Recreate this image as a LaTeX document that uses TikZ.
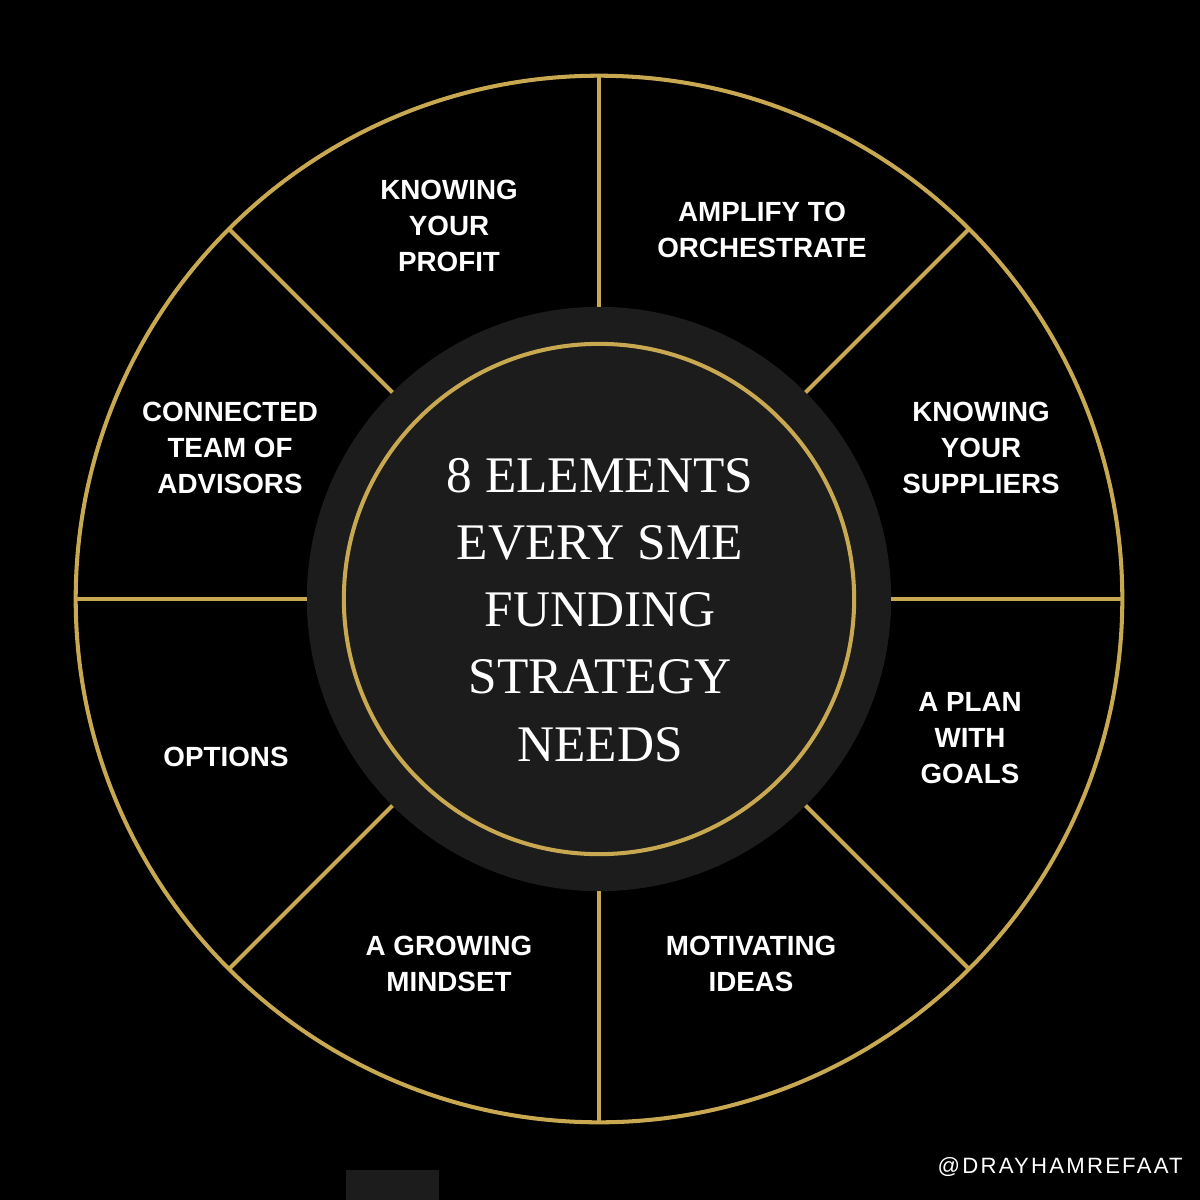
\documentclass[tikz,border=0pt]{standalone}
\usepackage{fontspec}
\setmainfont{Liberation Serif}
\newfontfamily\labelfont{Liberation Sans}
\newfontfamily\tagfont{Liberation Sans}[LetterSpace=10]
\definecolor{gold}{RGB}{200,168,80}
\definecolor{hub}{RGB}{28,28,28}
\begin{document}
\begin{tikzpicture}[x=0.01cm,y=-0.01cm]
\tikzset{
  ringline/.style={circle, draw=gold, line width=1.15pt, inner sep=0pt, outer sep=0pt},
  spoke/.style={draw=gold, line width=1.15pt},
  lbl/.style={text=white, align=center, inner sep=0pt,
    font=\labelfont\bfseries\fontsize{7.9}{10.2}\selectfont},
  titlestyle/.style={text=white, align=center, inner sep=0pt,
    font=\fontsize{14.6}{19.1}\selectfont}
}
\fill[black] (0,0) rectangle (1200,1200);
\useasboundingbox (0,0) rectangle (1200,1200);
\coordinate (c) at (599,599);
\node[ringline, minimum size=10.46cm] (outer) at (c) {};
\node[circle, fill=hub, inner sep=0pt, outer sep=0pt, minimum size=5.84cm] (hub) at (c) {};
\node[ringline, minimum size=5.1cm] (ring) at (c) {};
\foreach \a in {0,45,...,315} \draw[spoke] (hub.\a) -- (outer.\a);
\node[titlestyle] (title) at (600,610) {8 ELEMENTS\\EVERY SME\\FUNDING\\STRATEGY\\NEEDS};
\node[lbl] (l1) at (449,226) {KNOWING\\YOUR\\PROFIT};
\node[lbl] (l2) at (762,230) {AMPLIFY TO\\ORCHESTRATE};
\node[lbl] (l3) at (981,448) {KNOWING\\YOUR\\SUPPLIERS};
\node[lbl] (l4) at (970,738) {A PLAN\\WITH\\GOALS};
\node[lbl] (l5) at (751,964) {MOTIVATING\\IDEAS};
\node[lbl] (l6) at (449,964) {A GROWING\\MINDSET};
\node[lbl] (l7) at (226,757) {OPTIONS};
\node[lbl] (l8) at (230,448) {CONNECTED\\TEAM OF\\ADVISORS};
\node[fill=hub, inner sep=0pt, outer sep=0pt, minimum width=0.93cm, minimum height=0.3cm, anchor=south west] (tab) at (346,1200) {};
\node[anchor=west, text=white, inner sep=0pt, font=\tagfont\fontsize{6.3}{7}\selectfont] (tag) at (937,1167) {@DRAYHAMREFAAT};
\end{tikzpicture}
\end{document}
